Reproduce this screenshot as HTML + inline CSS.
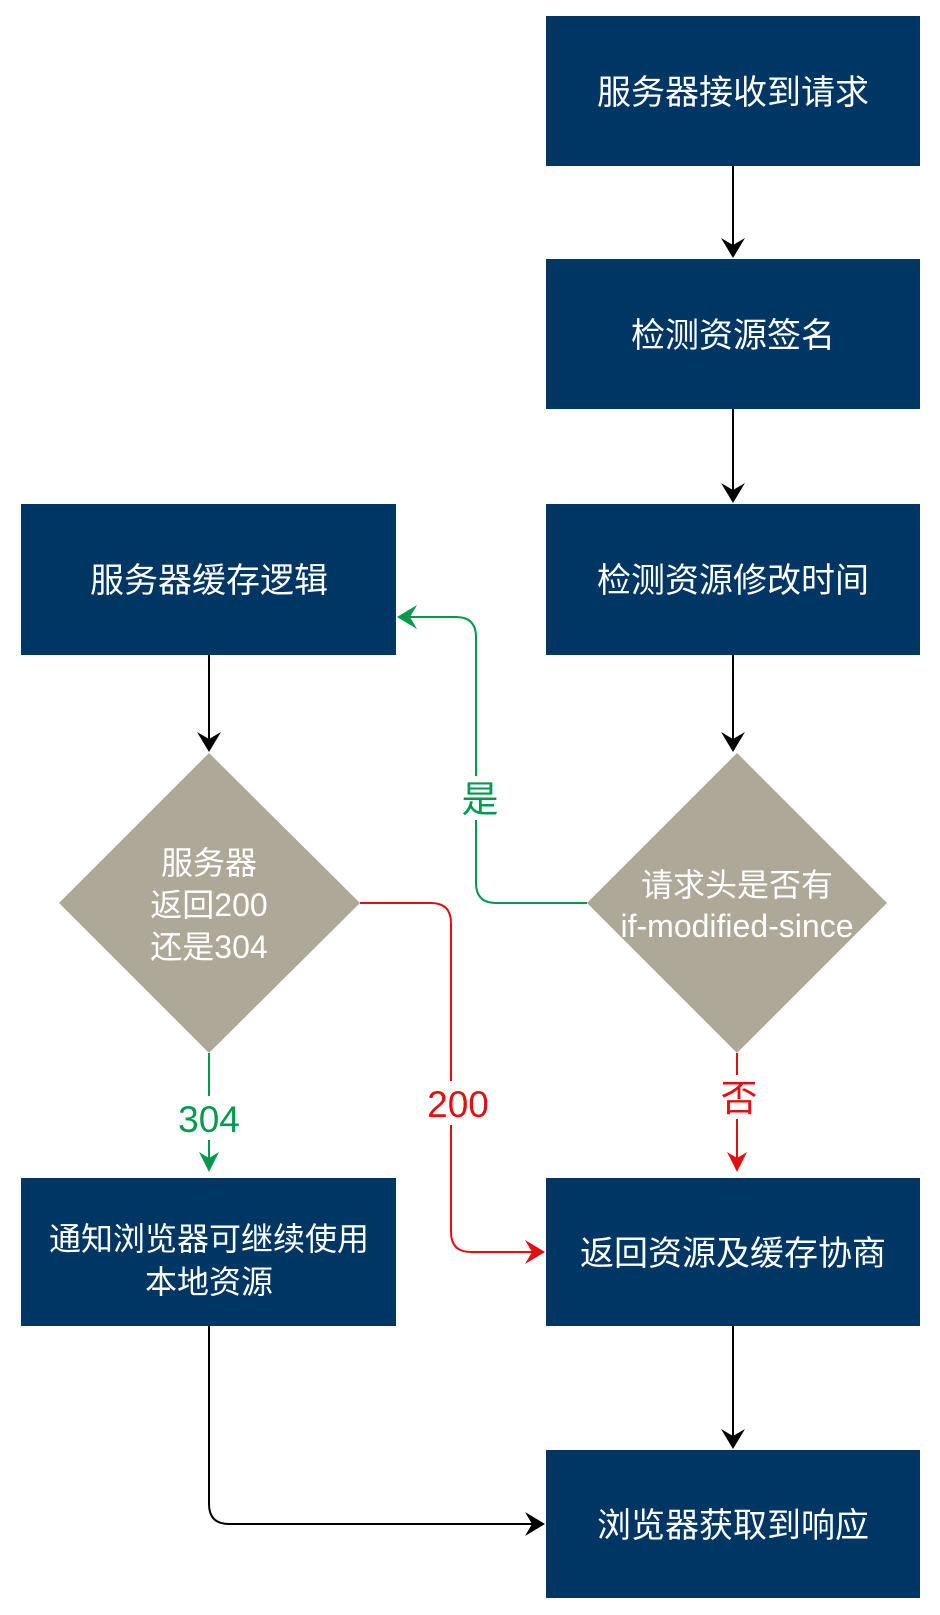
<!DOCTYPE html>
<html><head><meta charset="utf-8"><style>
html,body{margin:0;padding:0;background:#fff;}
svg{display:block;}
text{font-family:"Liberation Sans","Noto Sans CJK SC",sans-serif;}
</style></head><body>
<svg width="940" height="1615" viewBox="0 0 940 1615" xmlns="http://www.w3.org/2000/svg">
<g fill="#003663">
<rect x="546" y="16" width="374" height="150"/>
<rect x="546" y="259" width="374" height="150"/>
<rect x="546" y="504" width="374" height="151"/>
<rect x="21" y="504" width="375" height="151"/>
<rect x="21" y="1178" width="375" height="148"/>
<rect x="546" y="1178" width="374" height="148"/>
<rect x="546" y="1450" width="374" height="148"/>
</g>
<g fill="#ADA897">
<polygon points="209,753 360,903 209,1053 59,903"/>
<polygon points="737,753 887,903 737,1053 587,903"/>
</g>
<g stroke="#000" stroke-width="2" fill="none">
<path d="M733 166 V250"/><path d="M721 238 L733 258 L745 238 L733 245 z" fill="#000" stroke="none"/>
<path d="M733 409 V495"/><path d="M721 483 L733 503 L745 483 L733 490 z" fill="#000" stroke="none"/>
<path d="M733 655 V744"/><path d="M721 732 L733 752 L745 732 L733 739 z" fill="#000" stroke="none"/>
<path d="M209 655 V744"/><path d="M197 732 L209 752 L221 732 L209 739 z" fill="#000" stroke="none"/>
<path d="M733 1326 V1441"/><path d="M721 1429 L733 1449 L745 1429 L733 1436 z" fill="#000" stroke="none"/>
<path d="M209 1326 V1504 Q209 1524 229 1524 H537"/><path d="M525 1512 L545 1524 L525 1536 L532 1524 z" fill="#000" stroke="none"/>
</g>
<g stroke="#00994D" stroke-width="2" fill="none">
<path d="M587 903 H496 Q476 903 476 883 V637 Q476 617 456 617 H405"/>
<path d="M209 1053 V1170"/>
</g>
<path d="M417 605 L397 617 L417 629 L410 617 z" fill="#00994D"/>
<path d="M199 1152 L209 1172 L219 1152 L209 1158 z" fill="#00994D"/>
<g stroke="#E01010" stroke-width="2" fill="none">
<path d="M360 903 H431 Q451 903 451 923 V1232 Q451 1252 471 1252 H537"/>
<path d="M737 1053 V1170"/>
</g>
<path d="M525 1240 L545 1252 L525 1264 L532 1252 z" fill="#E01010"/>
<path d="M727 1152 L737 1172 L747 1152 L737 1158 z" fill="#E01010"/>
<rect x="462" y="776" width="30" height="44" fill="#fff"/>
<rect x="182" y="1096" width="56" height="44" fill="#fff"/>
<rect x="425" y="1081" width="64" height="44" fill="#fff"/>
<rect x="722" y="1075" width="32" height="44" fill="#fff"/>
<g fill="#fff" font-size="34" text-anchor="middle">
<text x="733" y="104">服务器接收到请求</text>
<text x="733" y="347">检测资源签名</text>
<text x="733" y="592">检测资源修改时间</text>
<text x="209" y="592">服务器缓存逻辑</text>
<text x="209" y="1250" font-size="32">通知浏览器可继续使用</text>
<text x="209" y="1293" font-size="32">本地资源</text>
<text x="733" y="1265">返回资源及缓存协商</text>
<text x="733" y="1537">浏览器获取到响应</text>
</g>
<g fill="#fff" font-size="32" text-anchor="middle">
<text x="209" y="874">服务器</text>
<text x="209" y="916">返回200</text>
<text x="209" y="958">还是304</text>
<text x="737" y="896">请求头是否有</text>
<text x="737" y="937">if-modified-since</text>
</g>
<g font-size="37" text-anchor="middle">
<text x="480" y="812" fill="#00994D">是</text>
<text x="209" y="1132" fill="#00994D">304</text>
<text x="458" y="1117" fill="#E01010">200</text>
<text x="739" y="1111" fill="#E01010">否</text>
</g>
</svg>
</body></html>
